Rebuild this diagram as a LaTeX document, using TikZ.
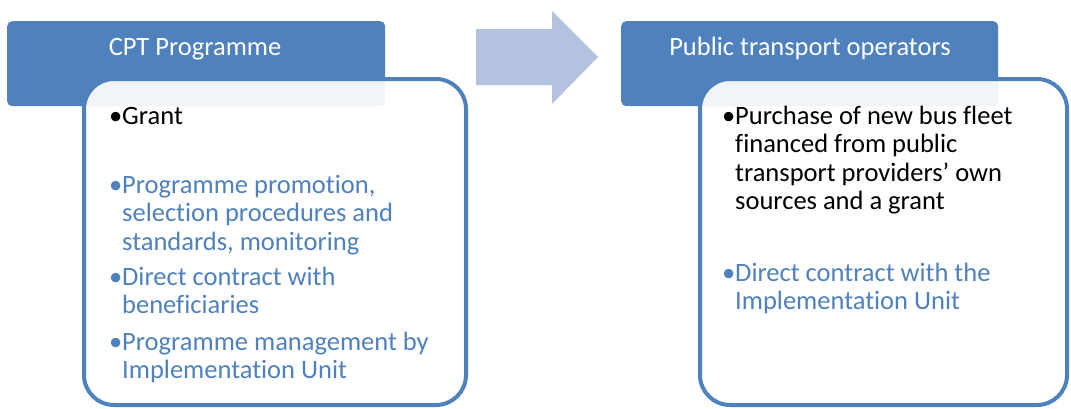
\documentclass[tikz,border=0pt]{standalone}
\usepackage{fontspec}
\setmainfont[Ligatures={TeX,NoCommon}]{Carlito}
\usetikzlibrary{positioning}

\definecolor{hdrblue}{HTML}{4F81BD}
\definecolor{arrowblue}{HTML}{B3C3DF}

% one bullet point, hanging bullet, baseline on its first line
\newcommand{\bulletitem}[1]{%
  \parbox[t]{340pt}{\raggedright\leavevmode\llap{\textbullet}#1}}

\tikzset{
  header/.style={fill=hdrblue, rounded corners=5pt, anchor=north west,
    inner sep=0pt},
  panel/.style={draw=hdrblue, line width=4pt, fill=white, fill opacity=0.92,
    rounded corners=30pt},
  title/.style={text=white, anchor=base, inner sep=0pt,
    font=\fontsize{26.5}{28}\selectfont},
  item/.style={anchor=base west, inner sep=0pt,
    font=\fontsize{26.5}{28.6}\selectfont},
}

\begin{document}
\begin{tikzpicture}[x=1pt, y=-1pt]
    \useasboundingbox (0,0) rectangle (1071,408);

    % Title bars
    \node[header, minimum width=378pt, minimum height=85pt] (cpt) at (7,21) {};
    \node[header, minimum width=377pt, minimum height=85pt] (ops) at (621,21) {};

    % Panels laid over the bars
    \draw[panel] (84,79) rectangle (466,405);
    \draw[panel] (700,79) rectangle (1067,405);

    % Block arrow between the two sides
    \fill[arrowblue]
      (476,29) -- (552,29) -- (552,11) -- (598,57)
      -- (552,104) -- (552,85) -- (476,85) -- cycle;

    % Titles
    \node[title] (cpttitle) at (195,55) {CPT Programme};
    \node[title] (opstitle) at (810,55) {Public transport operators};

    % Left list
    \node[item] (grant) at (122,124) {\bulletitem{Grant}};
    \node[item, text=hdrblue] (promo) at (122,193)
      {\bulletitem{Programme promotion,\\selection procedures and\\standards, monitoring}};
    \node[item, text=hdrblue] (benef) at (122,285)
      {\bulletitem{Direct contract with\\beneficiaries}};
    \node[item, text=hdrblue] (mgmt) at (122,350)
      {\bulletitem{Programme management by\\Implementation Unit}};

    % Right list
    \node[item] (fleet) at (735,124)
      {\bulletitem{Purchase of new bus fleet\\financed from public\\transport providers' own\\sources and a grant}};
    \node[item, text=hdrblue] (unit) at (735,281)
      {\bulletitem{Direct contract with the\\Implementation Unit}};
\end{tikzpicture}
\end{document}
